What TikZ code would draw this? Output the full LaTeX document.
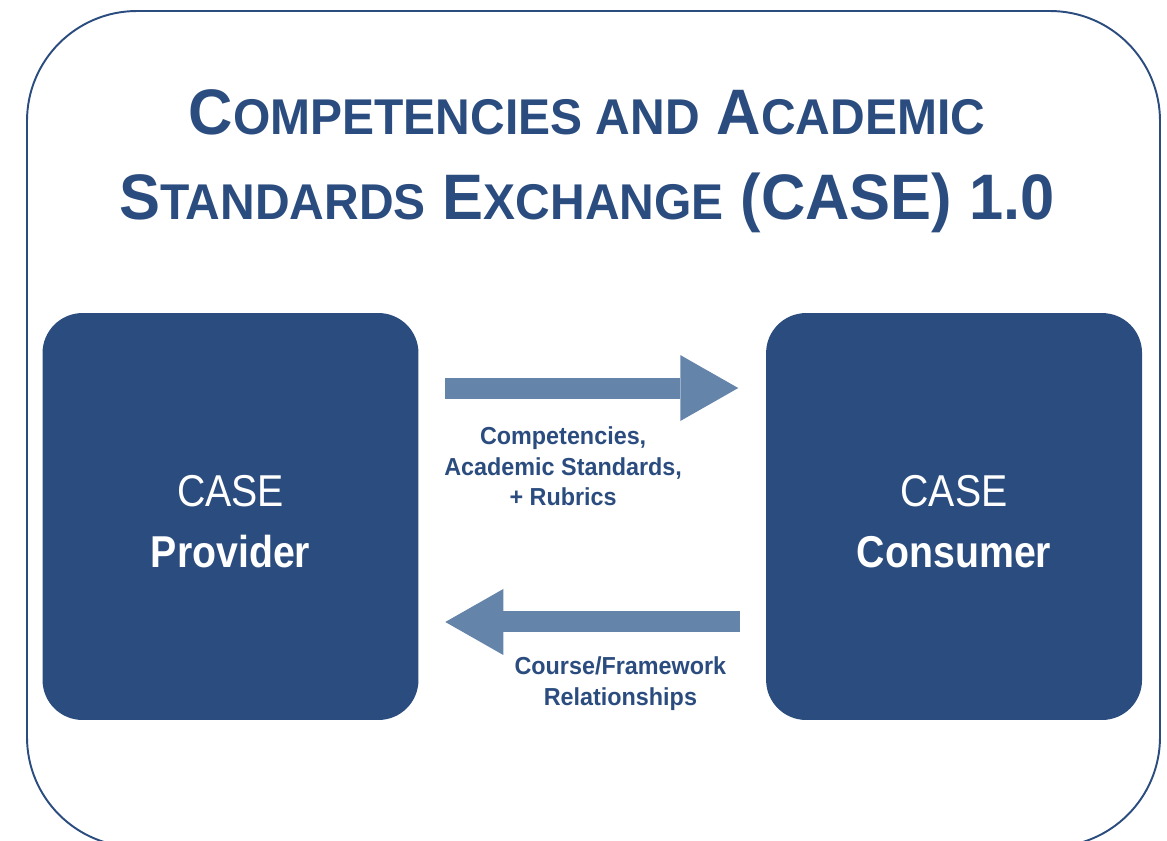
\documentclass[tikz,border=0pt]{standalone}
\usepackage{fontspec}
\usepackage{xcolor}
\definecolor{caseNavy}{RGB}{43,76,126}
\definecolor{caseSteel}{RGB}{100,132,170}
\newfontfamily\titlefont[FakeStretch=0.955]{Liberation Sans}
\newfontfamily\boxfont[FakeStretch=0.88]{Liberation Sans}
\newfontfamily\tagfont[FakeStretch=0.95]{Liberation Sans}
\newcommand{\smallcap}[1]{{\fontsize{28.6}{34}\selectfont #1}}
\usetikzlibrary{arrows.meta,positioning}

\begin{document}
\begin{tikzpicture}[
  x=0.02cm, y=-0.02cm,
  casebox/.style={fill=caseNavy, rounded corners=0.8cm,
                  minimum width=7.52cm, minimum height=8.14cm},
  boxtext/.style={text=white, align=center, yshift=-0.1cm,
                  font=\boxfont\fontsize{25.4}{34.7}\selectfont},
  flow/.style={caseSteel, line width=0.42cm,
               -{Triangle[length=1.16cm, width=1.32cm, line width=0pt]}},
  flowlabel/.style={text=caseNavy, align=center, inner sep=0pt,
                    font=\tagfont\bfseries\fontsize{14}{17.5}\selectfont},
  titletext/.style={text=caseNavy, align=center, inner sep=0pt,
                    font=\titlefont\bfseries\fontsize{36.6}{48.4}\selectfont}
]
  \useasboundingbox (0,0) rectangle (1167,840);
  \clip (0,0) rectangle (1167,840);

  % outer frame
  \draw[caseNavy, line width=1.1pt, rounded corners=2.2cm] (27,11) rectangle (1160,847);

  \node[titletext, anchor=north] (title) at (587,89)
    {C\smallcap{OMPETENCIES AND} A\smallcap{CADEMIC}\\
     S\smallcap{TANDARDS} E\smallcap{XCHANGE} (CASE) 1.0};

  \node[casebox, label={[boxtext]center:{CASE\\\textbf{Provider}}}]
    (provider) at (230.5,516.5) {};
  \node[casebox, right=6.94cm of provider,
        label={[boxtext]center:{CASE\\\textbf{Consumer}}}] (consumer) {};

  \draw[flow, shorten <=0.53cm, shorten >=0.55cm]
    ([yshift=2.57cm]provider.east) -- ([yshift=2.57cm]consumer.west)
    node[flowlabel, pos=0.416, below=0.56cm] (sent)
      {Competencies,\\Academic Standards,\\+ Rubrics};
  \draw[flow, shorten <=0.51cm, shorten >=0.53cm]
    ([yshift=-2.11cm]consumer.west) -- ([yshift=-2.11cm]provider.east)
    node[flowlabel, pos=0.419, below=0.48cm] (returned)
      {Course/Framework\\Relationships};
\end{tikzpicture}
\end{document}
